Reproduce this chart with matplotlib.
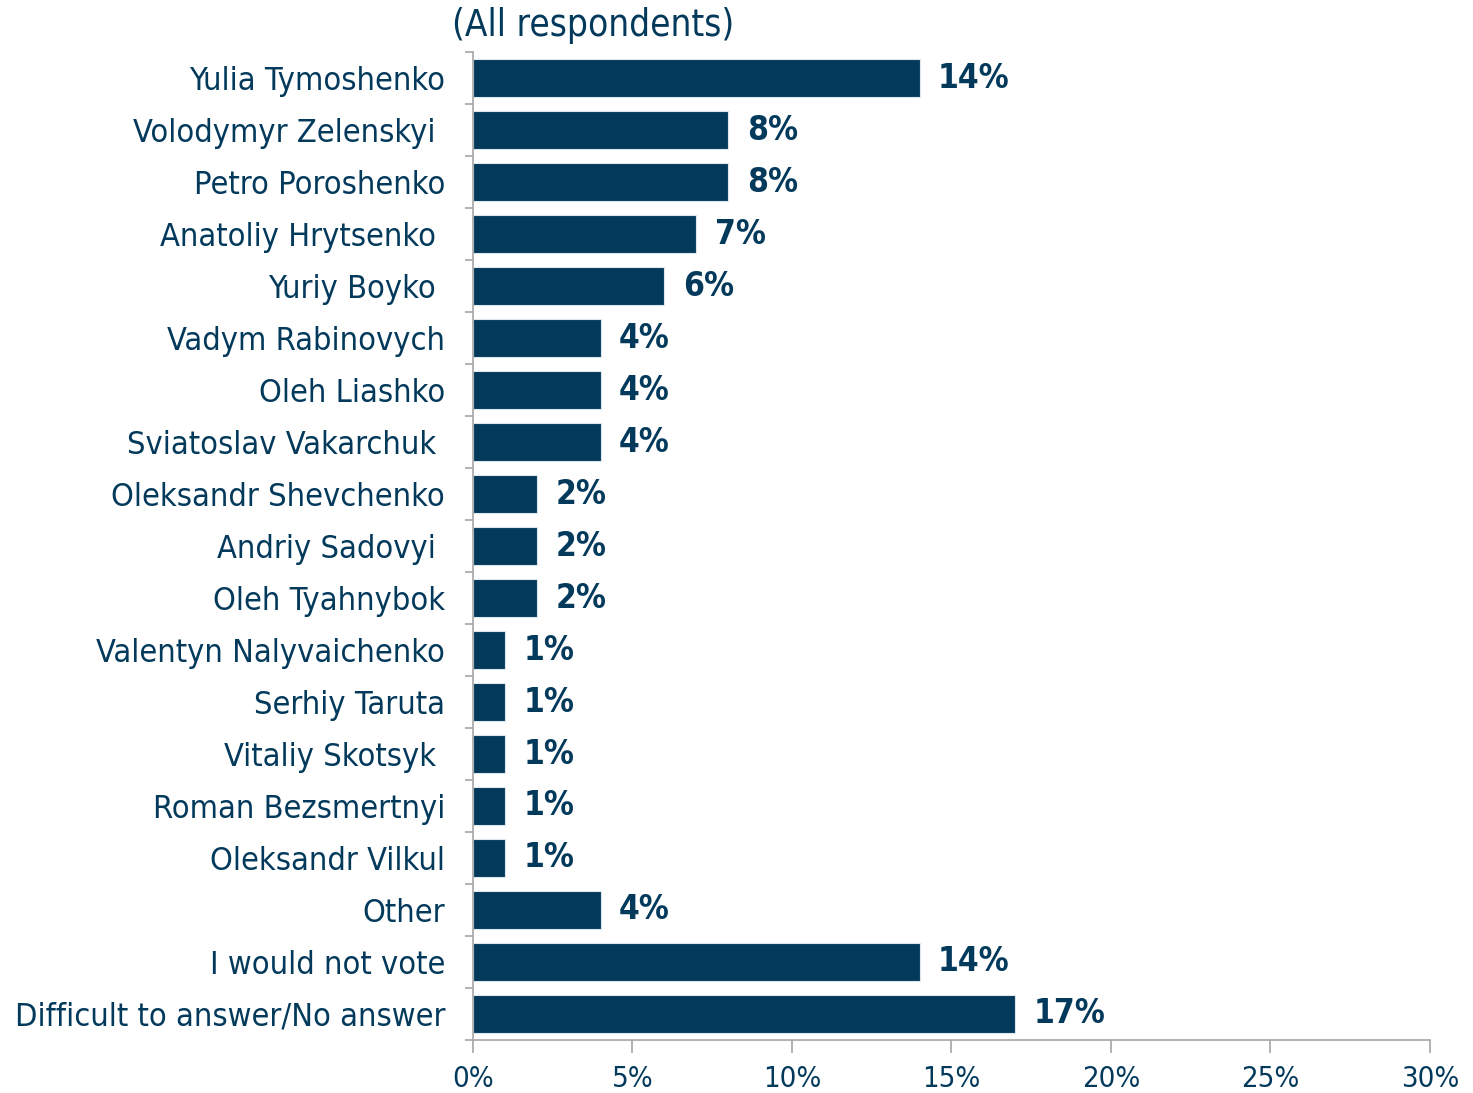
import numpy as np
import matplotlib.pyplot as plt
from matplotlib.ticker import FixedLocator

NAVY = '#033a5c'
GREY = '#a6a6a6'

candidates = ['Yulia Tymoshenko', 'Volodymyr Zelenskyi ', 'Petro Poroshenko',
              'Anatoliy Hrytsenko ', 'Yuriy Boyko ', 'Vadym Rabinovych',
              'Oleh Liashko', 'Sviatoslav Vakarchuk ', 'Oleksandr Shevchenko',
              'Andriy Sadovyi ', 'Oleh Tyahnybok', 'Valentyn Nalyvaichenko',
              'Serhiy Taruta', 'Vitaliy Skotsyk ', 'Roman Bezsmertnyi',
              'Oleksandr Vilkul', 'Other', 'I would not vote',
              'Difficult to answer/No answer']
shares = [14, 8, 8, 7, 6, 4, 4, 4, 2, 2, 2, 1, 1, 1, 1, 1, 4, 14, 17]
x_ticks = [0, 5, 10, 15, 20, 25, 30]

plt.rcParams['font.family'] = ['DejaVu Sans']
plt.rcParams['font.stretch'] = 'condensed'

fig = plt.figure(figsize=(14.73, 10.93), dpi=100)
ax = fig.add_axes([0.3211, 0.0485, 0.9708 - 0.3211, 0.9524 - 0.0485])

pos = np.arange(len(candidates))
ax.barh(pos, shares, height=0.73, color=NAVY, edgecolor='#dde6ee', linewidth=0.8)
for p, v in zip(pos, shares):
    ax.text(v + 0.58, p, f'{v}%', va='center', ha='left', color=NAVY,
            fontsize=24, fontweight='bold')

ax.set_xlim(0, 30)
ax.set_ylim(len(candidates) - 0.5, -0.5)
ax.set_xticks(x_ticks)
ax.set_xticklabels([f'{t}%' for t in x_ticks], color=NAVY, fontsize=21)
ax.set_yticks(pos)
ax.set_yticklabels(candidates, color=NAVY, fontsize=23.3)
ax.yaxis.set_minor_locator(FixedLocator(np.arange(-0.5, len(candidates), 1)))
ax.tick_params(axis='y', which='major', length=0, pad=20)
ax.tick_params(axis='y', which='minor', length=6, color=GREY, width=1.2)
ax.tick_params(axis='x', length=9, color=GREY, width=1.2, pad=9)

for side in ['top', 'right']:
    ax.spines[side].set_visible(False)
for side in ['left', 'bottom']:
    ax.spines[side].set_color(GREY)
    ax.spines[side].set_linewidth(1.2)

fig.text(0.3068, 0.977, '(All respondents)', ha='left', va='center',
         color=NAVY, fontsize=26.5)

fig.savefig('out.png', dpi=100)
